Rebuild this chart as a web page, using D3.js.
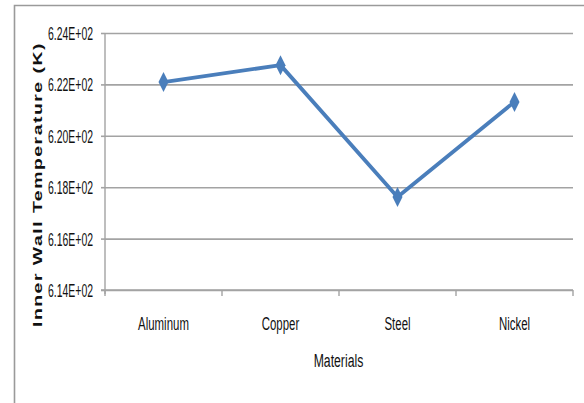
<!DOCTYPE html>
<html>
<head>
<meta charset="utf-8">
<script src="https://cdn.jsdelivr.net/npm/d3@7/dist/d3.min.js"></script>
<style>
  html, body { margin: 0; padding: 0; background: #fff; }
  svg { display: block; }
  text { font-family: "Liberation Sans", Arial, sans-serif; fill: #111; }
</style>
</head>
<body>
<svg id="chart" width="584" height="403"></svg>
<script>
// Inner wall temperature (K) for each wall material
const materials = ["Aluminum", "Copper", "Steel", "Nickel"];
const innerWallTemp = [622.09, 622.75, 617.62, 621.32];
const yTickValues = [614, 616, 618, 620, 622, 624];
const yTickLabels = ["6.14E+02", "6.16E+02", "6.18E+02", "6.20E+02", "6.22E+02", "6.24E+02"];
const xTitle = "Materials";
const yTitle = "Inner Wall Temperature (K)";

const svg = d3.select("#chart");
const plot = { left: 105, right: 573, top: 33, bottom: 290 };
const lineColor = "#4a7ebb";
const gridColor = "#a3a3a3";

// squeeze a text element horizontally to mimic a condensed face
function condense(sel, factor) {
  sel.each(function () {
    const w = this.getComputedTextLength();
    d3.select(this).attr("textLength", w * factor).attr("lengthAdjust", "spacingAndGlyphs");
  });
}

// chart frame (top and left edges)
svg.append("path")
  .attr("d", "M14.5,403 L14.5,5.5 L584,5.5")
  .attr("fill", "none").attr("stroke", "#9a9a9a").attr("stroke-width", 1.6);

const x = d3.scaleBand().domain(materials).range([plot.left, plot.right]).padding(0);
const y = d3.scaleLinear().domain([614, 624]).range([plot.bottom, plot.top]);

// horizontal gridlines
const grid = svg.append("g").attr("transform", `translate(${plot.left},0)`)
  .call(d3.axisLeft(y).tickValues(yTickValues).tickSize(-(plot.right - plot.left)).tickFormat(""));
grid.select(".domain").remove();
grid.selectAll("line").attr("stroke", gridColor).attr("stroke-width", 1.6);

// y axis with tick labels
const yAxis = svg.append("g").attr("transform", `translate(${plot.left},0)`)
  .call(d3.axisLeft(y).tickValues(yTickValues).tickSize(4).tickPadding(8)
    .tickFormat((d, i) => yTickLabels[i]));
yAxis.select(".domain").attr("d", `M0,${plot.top}V${plot.bottom + 4}`).attr("stroke", gridColor).attr("stroke-width", 1.4);
yAxis.selectAll(".tick line").attr("stroke", gridColor).attr("stroke-width", 1.6);
yAxis.selectAll(".tick text").attr("font-size", 18).attr("fill", "#111").attr("dy", "0.36em")
  .call(condense, 0.58);

// x axis with category boundaries as ticks
const xAxis = svg.append("g").attr("transform", `translate(0,${plot.bottom})`);
xAxis.append("line")
  .attr("x1", plot.left - 4).attr("x2", plot.right)
  .attr("stroke", gridColor).attr("stroke-width", 1.6);
const bounds = materials.map(m => x(m)).concat([x(materials[materials.length - 1]) + x.bandwidth()]);
xAxis.selectAll("line.tk").data(bounds).enter().append("line").attr("class", "tk")
  .attr("x1", d => d).attr("x2", d => d).attr("y1", 0).attr("y2", 6)
  .attr("stroke", gridColor).attr("stroke-width", 1.4);
xAxis.selectAll("text").data(materials).enter().append("text")
  .attr("x", d => x(d) + x.bandwidth() / 2).attr("y", 39.5)
  .attr("text-anchor", "middle").attr("font-size", 18)
  .text(d => d)
  .call(condense, 0.635);

// axis titles
svg.append("text")
  .attr("x", (plot.left + plot.right) / 2 - 0.5).attr("y", 366.5)
  .attr("text-anchor", "middle").attr("font-size", 18)
  .text(xTitle)
  .call(condense, 0.68);

svg.append("text")
  .attr("transform", "translate(42,184.5) rotate(-90)")
  .attr("text-anchor", "middle")
  .attr("font-family", "'DejaVu Sans', sans-serif").attr("font-weight", "bold").attr("font-size", 13)
  .attr("letter-spacing", 1)
  .attr("textLength", 285).attr("lengthAdjust", "spacingAndGlyphs")
  .text(yTitle);

// data series
const pts = materials.map((m, i) => [x(m) + x.bandwidth() / 2, y(innerWallTemp[i])]);
svg.append("path")
  .attr("d", d3.line()(pts))
  .attr("fill", "none").attr("stroke", lineColor).attr("stroke-width", 3.8)
  .attr("stroke-linejoin", "round");

// diamond markers
const mw = 5, mh = 10;
svg.selectAll("path.marker").data(pts).enter().append("path").attr("class", "marker")
  .attr("d", d => `M${d[0]},${d[1] - mh}L${d[0] + mw},${d[1]}L${d[0]},${d[1] + mh}L${d[0] - mw},${d[1]}Z`)
  .attr("fill", lineColor);
</script>
</body>
</html>
